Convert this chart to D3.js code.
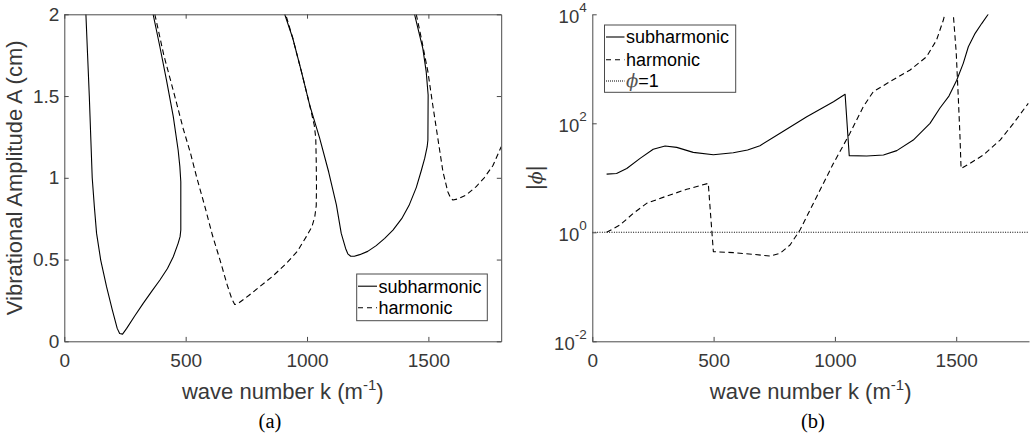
<!DOCTYPE html>
<html>
<head>
<meta charset="utf-8">
<script src="https://cdn.jsdelivr.net/npm/d3@7"></script>
<style>
  html, body { margin: 0; padding: 0; background: #fff; }
  svg { display: block; }
  text { font-family: "Liberation Sans", Arial, Helvetica, sans-serif; }
</style>
</head>
<body>
<svg id="fig" width="1034" height="439"></svg>
<script>
// ---------- shared axis data ----------
const kDomain = [0, 1800];
const kTicks = [0, 500, 1000, 1500];
const ampDomain = [0, 2];
const ampTicks = [0, 0.5, 1, 1.5, 2];
const phiDomain = [1e-2, 1e4];
const phiTicks = [1e-2, 1e0, 1e2, 1e4];

// ---------- panel (a): vibrational amplitude vs wave number ----------
// subharmonic boundary, first tongue
const subK1 = [89, 96, 103, 109, 115, 124, 133, 150, 174, 198, 218, 228, 240, 257, 290, 325, 360, 394, 425, 449, 469, 477, 480, 480, 476, 469, 449, 421, 394, 366];
const subA1 = [2.0, 1.75, 1.5, 1.25, 1.0, 0.82, 0.66, 0.497, 0.334, 0.191, 0.079, 0.048, 0.044, 0.079, 0.155, 0.232, 0.305, 0.375, 0.445, 0.517, 0.599, 0.64, 0.681, 0.976, 1.07, 1.17, 1.374, 1.598, 1.80, 2.0];
// subharmonic boundary, second tongue
const subK2 = [908, 941, 977, 1011, 1052, 1089, 1121, 1141, 1159, 1168, 1180, 1195, 1217, 1250, 1285, 1320, 1354, 1390, 1420, 1450, 1470, 1485, 1495, 1498, 1499, 1491, 1477, 1443];
const subA2 = [2.0, 1.855, 1.649, 1.445, 1.243, 1.037, 0.834, 0.66, 0.568, 0.535, 0.52, 0.52, 0.53, 0.55, 0.585, 0.63, 0.68, 0.75, 0.83, 0.94, 1.04, 1.12, 1.19, 1.231, 1.506, 1.649, 1.792, 2.0];
// harmonic boundary, first tongue
const harK1 = [373, 410, 455, 490, 520, 546, 580, 610, 641, 670, 690, 702, 715, 760, 805, 860, 915, 960, 997, 1020, 1032, 1038, 1039, 1038, 1036, 1030, 1011, 977, 941, 912];
const harA1 = [2.0, 1.75, 1.5, 1.3, 1.15, 1.0, 0.82, 0.65, 0.5, 0.35, 0.26, 0.225, 0.23, 0.28, 0.334, 0.40, 0.477, 0.55, 0.64, 0.70, 0.762, 0.83, 0.95, 1.1, 1.243, 1.32, 1.445, 1.649, 1.855, 2.0];
// harmonic boundary, second tongue
const harK2 = [1450, 1471, 1498, 1518, 1539, 1560, 1580, 1592, 1601, 1620, 1656, 1697, 1730, 1766, 1800];
const harA2 = [2.0, 1.853, 1.649, 1.445, 1.241, 1.037, 0.915, 0.875, 0.864, 0.87, 0.895, 0.946, 1.0, 1.075, 1.19];

// ---------- panel (b): |phi| vs wave number ----------
const phiSubK = [59, 100, 142, 197, 251, 300, 348, 416, 499, 581, 640, 691, 774, 884, 994, 1042, 1059, 1131, 1200, 1255, 1323, 1392, 1433, 1470, 1502, 1529, 1550, 1578, 1605, 1632];
const phiSub = [11.7, 12.0, 14.8, 22.7, 33.3, 38.3, 36.2, 29.3, 26.5, 28.9, 32.4, 38.8, 65.5, 132, 249, 340, 25.5, 25.1, 26.2, 31.5, 49.3, 99.8, 191, 316, 617, 1259, 2541, 4467, 6761, 10000];
const phiHarK = [59, 114, 169, 224, 307, 389, 478, 499, 581, 664, 732, 774, 815, 856, 925, 994, 1062, 1117, 1158, 1227, 1310, 1378, 1419, 1447, 1470, 1488, 1500, 1509, 1515, 1520, 1557, 1612, 1681, 1736, 1797];
const phiHar = [1.0, 1.36, 2.23, 3.40, 4.63, 6.14, 7.91, 0.441, 0.423, 0.394, 0.367, 0.411, 0.585, 1.10, 4.51, 18.4, 65.5, 202, 380, 581, 951, 1667, 3373, 7852, 19950, 10000, 1995, 269, 66.1, 14.8, 18.4, 26.2, 49.3, 99.8, 232];
const refK = [0, 1800];
const refPhi = [1, 1];

const seriesNames = ["subharmonic", "harmonic"];
const refName = "=1";

// ---------- layout & styles ----------
const svg = d3.select("#fig");
const axisStroke = "#4a4a4a";
const textFill = "#383838";
const tickLen = 4.4;
const dashed = "5.5,3.5";
const dotted = "1,1.4";
const lineW = 1.1;
const plotTop = 14.3, plotBottom = 341.3;

function styleAxis(g, fontSize) {
  g.attr("font-family", null).attr("font-size", null);
  g.select(".domain").attr("stroke", axisStroke).attr("stroke-width", 1);
  g.selectAll(".tick line").attr("stroke", axisStroke).attr("stroke-width", 1);
  g.selectAll(".tick text").attr("fill", textFill).style("font-size", fontSize + "px");
}

function drawSeries(g, xs, ys, xScale, yScale, dash) {
  const data = d3.zip(xs, ys);
  g.append("path")
    .datum(data)
    .attr("fill", "none")
    .attr("stroke", "#000")
    .attr("stroke-width", lineW)
    .attr("stroke-linejoin", "round")
    .attr("stroke-dasharray", dash)
    .attr("d", d3.line().x(d => xScale(d[0])).y(d => yScale(d[1])));
}

function xLabel(cx) {
  const t = svg.append("text")
    .attr("x", cx).attr("y", 399)
    .attr("text-anchor", "middle")
    .attr("fill", textFill)
    .style("font-size", "22px");
  t.append("tspan").text("wave number k (m");
  t.append("tspan").attr("dy", -9).style("font-size", "15px").text("-1");
  t.append("tspan").attr("dy", 9).text(")");
}

function caption(cx, s) {
  svg.append("text")
    .attr("x", cx).attr("y", 428)
    .attr("text-anchor", "middle")
    .attr("fill", "#000")
    .style("font-family", "'Liberation Serif', 'Times New Roman', serif")
    .style("font-size", "20.5px")
    .text(s);
}

// ================= panel (a) =================
const xA = d3.scaleLinear().domain(kDomain).range([64.3, 501.2]);
const yA = d3.scaleLinear().domain(ampDomain).range([plotBottom, plotTop]);

svg.append("clipPath").attr("id", "clipA")
  .append("rect").attr("x", xA(0)).attr("y", plotTop)
  .attr("width", xA(1800) - xA(0)).attr("height", plotBottom - plotTop);

const gA = svg.append("g").attr("clip-path", "url(#clipA)");
drawSeries(gA, subK1, subA1, xA, yA, null);
drawSeries(gA, subK2, subA2, xA, yA, null);
drawSeries(gA, harK1, harA1, xA, yA, dashed);
drawSeries(gA, harK2, harA2, xA, yA, dashed);

svg.append("g").attr("transform", `translate(0,${plotBottom})`)
  .call(d3.axisBottom(xA).tickValues(kTicks).tickSize(-tickLen).tickSizeOuter(0).tickPadding(12.5).tickFormat(d3.format("d")))
  .call(g => styleAxis(g, 19));
svg.append("g").attr("transform", `translate(0,${plotTop})`)
  .call(d3.axisTop(xA).tickValues(kTicks).tickSize(-tickLen).tickSizeOuter(0).tickFormat(""))
  .call(g => styleAxis(g, 19));
svg.append("g").attr("transform", `translate(${xA(0)},0)`)
  .call(d3.axisLeft(yA).tickValues(ampTicks).tickSize(-tickLen).tickSizeOuter(0).tickPadding(5).tickFormat(d3.format("~g")))
  .call(g => styleAxis(g, 19));
svg.append("g").attr("transform", `translate(${xA(1800)},0)`)
  .call(d3.axisRight(yA).tickValues(ampTicks).tickSize(-tickLen).tickSizeOuter(0).tickFormat(""))
  .call(g => styleAxis(g, 19));

svg.append("text")
  .attr("transform", `translate(21.5,${(plotTop + plotBottom) / 2}) rotate(-90)`)
  .attr("text-anchor", "middle")
  .attr("fill", textFill)
  .style("font-size", "22px")
  .text("Vibrational Amplitude A (cm)");
xLabel((xA(0) + xA(1800)) / 2);
caption(270, "(a)");

// legend (a)
const legA = svg.append("g");
legA.append("rect").attr("x", 356.7).attr("y", 274).attr("width", 130.6).attr("height", 46.7)
  .attr("fill", "#fff").attr("stroke", axisStroke).attr("stroke-width", 1);
[[286.2, null, 292.5], [307.7, "5,4", 314]].forEach((r, i) => {
  legA.append("line").attr("x1", 358).attr("x2", 377).attr("y1", r[0]).attr("y2", r[0])
    .attr("stroke", "#000").attr("stroke-width", lineW).attr("stroke-dasharray", r[1]);
  legA.append("text").attr("x", 378.5).attr("y", r[2]).attr("fill", "#000")
    .style("font-size", "18px").text(seriesNames[i]);
});

// ================= panel (b) =================
const xB = d3.scaleLinear().domain(kDomain).range([592.3, 1029]);
const yB = d3.scaleLog().domain(phiDomain).range([plotBottom, plotTop]);

svg.append("clipPath").attr("id", "clipB")
  .append("rect").attr("x", xB(0)).attr("y", plotTop)
  .attr("width", xB(1800) - xB(0)).attr("height", plotBottom - plotTop);

const gB = svg.append("g").attr("clip-path", "url(#clipB)");
drawSeries(gB, refK, refPhi, xB, yB, dotted);
drawSeries(gB, phiSubK, phiSub, xB, yB, null);
drawSeries(gB, phiHarK, phiHar, xB, yB, dashed);

svg.append("g").attr("transform", `translate(0,${plotBottom})`)
  .call(d3.axisBottom(xB).tickValues(kTicks).tickSize(-tickLen).tickSizeOuter(0).tickPadding(12.5).tickFormat(d3.format("d")))
  .call(g => styleAxis(g, 19));
svg.append("g").attr("transform", `translate(${xB(0)},0)`)
  .call(d3.axisLeft(yB).tickValues(phiTicks).tickSize(-tickLen).tickSizeOuter(0).tickPadding(5.6).tickFormat(() => ""))
  .call(g => styleAxis(g, 18.5))
  .call(g => g.selectAll(".tick text").each(function(d) {
    const t = d3.select(this).attr("dy", null).attr("y", 8.4);
    t.append("tspan").text("10");
    t.append("tspan").attr("dy", -11).style("font-size", "13.5px").text(String(Math.round(Math.log10(d))));
  }));

svg.append("text")
  .attr("transform", `translate(542,${(plotTop + plotBottom) / 2}) rotate(-90)`)
  .attr("text-anchor", "middle")
  .attr("fill", textFill)
  .style("font-size", "22px")
  .call(t => {
    t.append("tspan").text("|");
    t.append("tspan").style("font-style", "italic").style("font-family", "'DejaVu Serif', serif").style("font-size", "19px").text("\u03D5");
    t.append("tspan").text("|");
  });
xLabel((xB(0) + xB(1800)) / 2);
caption(813, "(b)");

// legend (b)
const legB = svg.append("g");
legB.append("rect").attr("x", 604.5).attr("y", 25).attr("width", 131.2).attr("height", 67.3)
  .attr("fill", "#fff").attr("stroke", axisStroke).attr("stroke-width", 1);
[[37, null, 43.3], [59.7, "5,4", 66]].forEach((r, i) => {
  legB.append("line").attr("x1", 606).attr("x2", 624.5).attr("y1", r[0]).attr("y2", r[0])
    .attr("stroke", "#000").attr("stroke-width", lineW).attr("stroke-dasharray", r[1]);
  legB.append("text").attr("x", 626).attr("y", r[2]).attr("fill", "#000")
    .style("font-size", "18px").text(seriesNames[i]);
});
legB.append("line").attr("x1", 606).attr("x2", 624.5).attr("y1", 81).attr("y2", 81)
  .attr("stroke", "#000").attr("stroke-width", lineW).attr("stroke-dasharray", "1,1");
legB.append("text").attr("x", 626).attr("y", 87.3).attr("fill", "#000")
  .style("font-size", "18px")
  .call(t => {
    t.append("tspan").style("font-style", "italic").style("font-family", "'DejaVu Serif', serif").attr("fill", "#555").text("\u03D5");
    t.append("tspan").text(refName);
  });
</script>
</body>
</html>
